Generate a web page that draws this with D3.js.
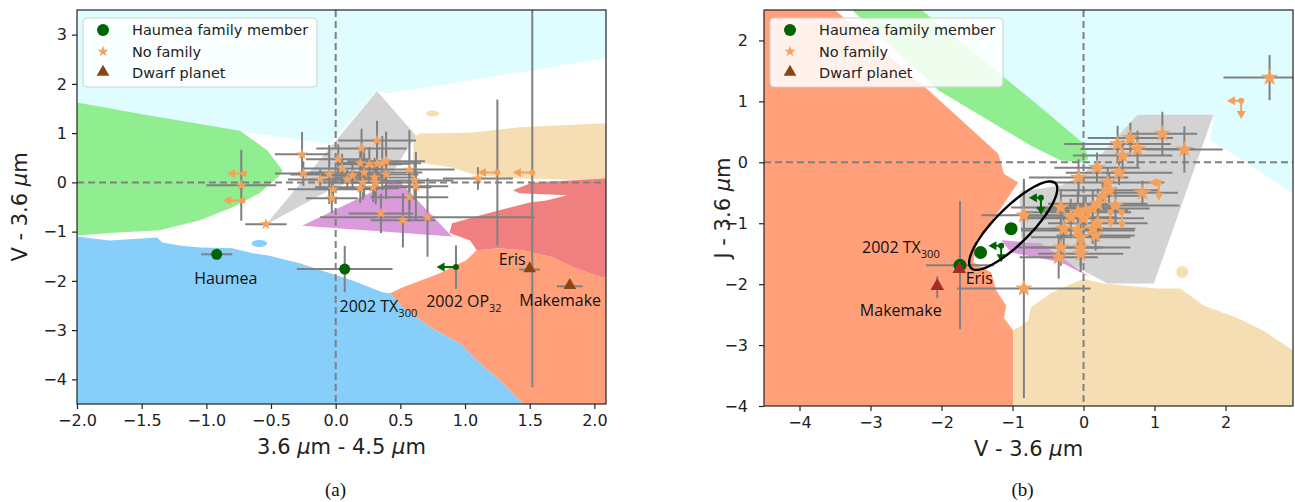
<!DOCTYPE html>
<html>
<head>
<meta charset="utf-8">
<script src="https://cdn.jsdelivr.net/npm/d3@7"></script>
<style>
  body { margin: 0; background: #fff; }
  svg { display: block; }
</style>
</head>
<body>
<svg id="fig" width="1295" height="502"></svg>
<script>
// ---------- Panel (a): 3.6-4.5 µm colour vs V-3.6 µm colour ----------
const leftXTicks = [-2.0, -1.5, -1.0, -0.5, 0.0, 0.5, 1.0, 1.5, 2.0];
const leftYTicks = [-4, -3, -2, -1, 0, 1, 2, 3];

// classification zones, polygon vertices in data units
const leftCyanZone = [[-2,3.5],[2.09,3.5],[2.09,2.52],[0.42,1.81],[0.32,1.85],[-0.05,0.79],[-0.41,0.91],[-0.66,1.01],[-0.95,1.10],[-1.44,1.36],[-2,1.62]];
const leftGreenZone = [[-2,1.62],[-1.44,1.36],[-0.74,1.05],[-0.53,0.65],[-0.41,0.24],[-0.44,0.12],[-0.59,-0.22],[-0.80,-0.51],[-1.05,-0.77],[-1.36,-0.97],[-1.75,-1.03],[-2,-1.08]];
const leftBlueZone = [[-2,-1.10],[-1.75,-1.18],[-1.38,-1.12],[-1.34,-1.22],[-1.21,-1.28],[-1.05,-1.32],[-0.80,-1.34],[-0.64,-1.44],[-0.53,-1.48],[-0.28,-1.64],[-0.12,-1.78],[0.13,-1.99],[0.36,-2.23],[0.42,-2.25],[0.52,-2.54],[0.73,-2.94],[0.96,-3.27],[1.11,-3.67],[1.27,-4.02],[1.45,-4.5],[-2,-4.5]];
const leftBlueSpot = [-0.59,-1.24,0.06,0.07];
const leftSalmonZone = [[0.42,-2.25],[0.52,-2.13],[0.80,-1.85],[1.01,-1.58],[1.09,-1.38],[1.27,-1.34],[1.45,-1.38],[1.68,-1.52],[1.83,-1.72],[2.06,-1.93],[2.09,-1.93],[2.09,-4.5],[1.45,-4.5],[1.27,-4.02],[1.11,-3.67],[0.96,-3.27],[0.73,-2.94],[0.52,-2.54]];
const leftCoralZone = [[2.09,0.08],[1.52,0.0],[1.37,-0.16],[1.42,-0.22],[1.79,-0.26],[1.63,-0.37],[1.50,-0.41],[1.17,-0.63],[0.90,-0.83],[0.88,-1.03],[1.04,-1.18],[1.09,-1.38],[1.27,-1.34],[1.45,-1.38],[1.68,-1.52],[1.83,-1.72],[2.06,-1.93],[2.09,-1.93]];
const leftWheatZone = [[0.60,0.91],[0.65,0.99],[1.04,1.01],[1.42,1.12],[2.09,1.20],[2.09,0.04],[1.42,0.08],[1.09,0.14],[0.90,0.30],[0.65,0.40],[0.60,0.45]];
const leftWheatSpot = [0.75,1.40,0.05,0.06];
const leftGrayZone = [[0.32,1.85],[0.62,0.95],[0.42,0.12],[0.10,0.0],[-0.05,-0.16],[-0.54,-0.86]];
const leftPlumZone = [[-0.26,-0.88],[0.48,0.06],[0.90,-1.10]];

// objects without family: [x, y, xErr, yErr]
const leftNoFamily = [
  [-0.73,-0.06,0.27,0.72], [-0.54,-0.85,0.16,0.05], [-0.26,0.57,0.21,0.45], [-0.25,0.18,0.22,0.25],
  [-0.12,0.06,0.25,0.20], [-0.05,0.16,0.30,0.60], [0.02,0.47,0.25,0.30], [0.05,0.28,0.30,0.30],
  [-0.02,-0.14,0.35,0.25], [-0.03,-0.32,0.20,0.30], [0.09,0.06,0.30,0.20], [0.13,0.14,0.25,0.30],
  [0.19,0.39,0.20,0.30], [0.20,0.69,0.35,0.40], [0.22,0.20,0.45,0.50], [0.21,0.00,0.30,0.35],
  [0.19,-0.12,0.30,0.30], [0.26,0.37,0.25,0.35], [0.30,0.10,0.30,0.40], [0.31,0.00,0.35,0.45],
  [0.29,-0.10,0.45,0.30], [0.32,0.85,0.30,0.40], [0.32,0.38,0.25,0.50], [0.36,0.39,0.30,0.55],
  [0.39,0.43,0.30,0.60], [0.39,0.16,0.25,0.50], [0.35,-0.63,0.25,0.40], [0.52,-0.77,0.25,0.55],
  [0.57,0.26,0.35,0.80], [0.57,-0.30,0.30,0.50], [0.61,0.04,0.30,0.40], [0.62,-0.08,0.25,0.70],
  [0.71,-0.71,0.83,0.80], [1.10,0.08,0.27,0.23]
];
// upper limits: [x, y, leftArrow, downArrow, xErr, yErr]
const leftNoFamilyLimits = [
  [-0.71,0.18,0.13,0,0,0], [-0.72,-0.37,0.15,0,0,0],
  [1.25,0.20,0.15,0,0,1.48], [1.52,0.20,0.15,0,0,4.36]
];
const leftFamily = [[-0.92,-1.46,0.12,0], [0.07,-1.76,0.37,0.47]];
const leftFamilyLimits = [[0.93,-1.72,0.15,0,0,0.44]];
const leftDwarf = [[1.50,-1.77,0.08,0.05], [1.81,-2.11,0.10,0]];
// annotations: [text, subscript, x, y, anchor]
const leftNames = [
  ["Haumea", "", -0.85, -1.95, "middle"],
  ["2002 TX", "300", 0.03, -2.52, "start"],
  ["2002 OP", "32", 0.70, -2.41, "start"],
  ["Eris", "", 1.26, -1.56, "start"],
  ["Makemake", "", 1.42, -2.39, "start"]
];

// ---------- Panel (b): V-3.6 µm colour vs J-3.6 µm colour ----------
const rightXTicks = [-4, -3, -2, -1, 0, 1, 2];
const rightYTicks = [-4, -3, -2, -1, 0, 1, 2];

const rightCyanZone = [[-2.28,2.5],[2.95,2.5],[2.95,-0.51],[2.25,0.03],[1.79,0.36],[1.83,0.78],[0.76,0.78],[0.35,-0.05],[0.03,-0.08],[-0.6,0.5]];
const rightGreenZone = [[-3.26,2.5],[-2.28,2.5],[-0.60,0.90],[0.0,0.31],[0.07,0.06],[0.0,0.0],[-0.32,0.03],[-0.74,0.27],[-2.04,1.18]];
const rightSalmonZone = [[-4.5,2.5],[-3.50,2.5],[-2.18,1.18],[-1.20,0.14],[-1.12,-0.19],[-0.92,-0.33],[-0.95,-0.38],[-1.23,-0.87],[-1.51,-1.28],[-1.55,-1.64],[-1.30,-1.81],[-1.23,-2.10],[-1.09,-2.35],[-1.12,-2.56],[-0.99,-2.76],[-0.99,-4.0],[-4.5,-4.0]];
const rightWheatZone = [[-0.99,-4.0],[-0.99,-2.76],[-0.92,-2.71],[-0.78,-2.60],[-0.74,-2.38],[-0.46,-2.15],[-0.28,-2.05],[0.0,-1.91],[0.28,-1.99],[1.04,-2.07],[1.36,-2.07],[1.60,-2.27],[1.69,-2.35],[2.16,-2.55],[2.53,-2.76],[2.95,-3.09],[2.95,-4.0]];
const rightWheatSpot = [1.39,-1.80,0.085,0.1];
const rightGrayZone = [[0.76,0.78],[1.83,0.78],[0.99,-1.99],[0.34,-1.99],[-0.88,-1.25],[-0.90,-0.48],[-0.32,-0.38],[0.0,-0.19]];
const rightPlumZone = [[-1.16,-1.28],[-0.60,-1.33],[0.10,-1.89],[-0.32,-1.64],[-1.02,-1.48]];

const rightNoFamily = [
  [2.62,1.39,0.65,0.37], [1.11,0.47,0.49,0.36], [1.42,0.21,0.54,0.38], [0.66,0.40,0.60,0.25],
  [0.48,0.30,0.75,0.30], [0.55,0.11,0.70,0.25], [0.76,0.22,0.80,0.30], [0.19,-0.09,0.60,0.25],
  [-0.07,-0.25,0.70,0.30], [0.50,-0.17,0.75,0.20], [0.34,-0.33,0.80,0.25], [0.36,-0.46,0.70,0.30],
  [0.27,-0.55,0.60,0.25], [0.83,-0.50,0.50,0.20], [0.45,-0.71,0.90,0.30], [0.20,-0.68,0.70,0.25],
  [0.13,-0.76,0.80,0.30], [0.03,-0.79,0.60,0.25], [-0.08,-0.82,0.75,0.35], [-0.32,-0.74,0.70,0.30],
  [-0.18,-0.90,0.65,0.30], [0.00,-0.92,0.85,0.25], [0.20,-1.00,0.70,0.30], [0.13,-1.09,0.60,0.25],
  [-0.08,-1.12,0.80,0.40], [-0.28,-1.09,0.60,0.30], [-0.04,-1.23,0.70,0.30], [0.17,-1.20,0.55,0.25],
  [-0.32,-1.40,0.60,0.30], [-0.04,-1.40,0.70,0.30], [-0.35,-1.56,0.55,0.35], [-0.04,-1.50,0.60,0.30],
  [-0.84,-0.87,0.60,0.55], [-0.84,-2.07,0.94,1.80]
];
const rightNoFamilyLimits = [
  [2.22,1.01,0.20,0.30,0,0], [1.06,-0.33,0.14,0.30,0,0],
  [0.38,-0.82,0,0.26,0,0], [0.54,-0.82,0,0.28,0,0]
];
const rightFamily = [[-1.74,-1.69,0.48,1.05], [-1.45,-1.48,0,0], [-1.02,-1.09,0,0]];
const rightFamilyLimits = [[-1.16,-1.37,0.18,0.27,0,0], [-0.60,-0.58,0.17,0.28,0,0]];
const rightDwarf = [[-1.75,-1.77,0,0], [-2.06,-2.05,0,0.18]];
const rightNames = [
  ["2002 TX", "300", -3.12, -1.40, "start"],
  ["Eris", "", -1.66, -1.91, "start"],
  ["Makemake", "", -3.15, -2.43, "start"]
];
// Haumea family group outline: centre and two semi-axis vectors (data units)
const familyEllipse = { cx: -0.99, cy: -1.04, a: [0.595, 0.695], b: [0.178, -0.208] };

const legendItems = ["Haumea family member", "No family", "Dwarf planet"];

// ---------- drawing ----------
const svg = d3.select("#fig");
const defs = svg.append("defs");
const BAR = "#808080", STAR = "#f5a15c", GREEN = "#006400";
const TICK_FONT = "DejaVu Sans, sans-serif";
const NOTE_FONT = "'Open Sans', sans-serif";

function starPath(size) { return d3.symbol().type(d3.symbolStar).size(size)(); }
function triPath(size) { return d3.symbol().type(d3.symbolTriangle).size(size)(); }

function drawPanel(p) {
  const x = d3.scaleLinear().domain(p.xDomain).range([p.left, p.right]);
  const y = d3.scaleLinear().domain(p.yDomain).range([p.bottom, p.top]);
  const clipId = p.id + "-clip";
  defs.append("clipPath").attr("id", clipId).append("rect")
    .attr("x", p.left).attr("y", p.top)
    .attr("width", p.right - p.left).attr("height", p.bottom - p.top);

  const g = svg.append("g");
  const plot = g.append("g").attr("clip-path", `url(#${clipId})`);
  const line = d3.line().x(d => x(d[0])).y(d => y(d[1]));

  // zones
  p.zones.forEach(([pts, color]) => {
    plot.append("path").attr("d", line(pts) + "Z").attr("fill", color);
  });
  p.spots.forEach(([s, color]) => {
    plot.append("ellipse")
      .attr("cx", x(s[0])).attr("cy", y(s[1]))
      .attr("rx", Math.abs(x(s[0] + s[2]) - x(s[0])))
      .attr("ry", Math.abs(y(s[1] + s[3]) - y(s[1])))
      .attr("fill", color);
  });

  // reference lines at zero
  plot.append("line").attr("x1", x(0)).attr("x2", x(0)).attr("y1", p.top).attr("y2", p.bottom)
    .attr("stroke", BAR).attr("stroke-width", 2).attr("stroke-dasharray", "7,4");
  plot.append("line").attr("x1", p.left).attr("x2", p.right).attr("y1", y(0)).attr("y2", y(0))
    .attr("stroke", BAR).attr("stroke-width", 2).attr("stroke-dasharray", "7,4");

  // error bars
  const bars = plot.append("g").attr("stroke", BAR).attr("stroke-width", 2);
  const drawBars = (arr, xe, ye) => arr.forEach(d => {
    const ex = d[xe], ey = d[ye];
    if (ex > 0) bars.append("line").attr("x1", x(d[0] - ex)).attr("x2", x(d[0] + ex))
      .attr("y1", y(d[1])).attr("y2", y(d[1]));
    if (ey > 0) bars.append("line").attr("x1", x(d[0])).attr("x2", x(d[0]))
      .attr("y1", y(d[1] - ey)).attr("y2", y(d[1] + ey));
  });
  drawBars(p.noFamily, 2, 3);
  drawBars(p.family, 2, 3);
  drawBars(p.dwarf, 2, 3);
  drawBars(p.noFamilyLimits, 4, 5);
  drawBars(p.familyLimits, 4, 5);

  // upper-limit arrows
  const drawLimits = (arr, color, dotR) => arr.forEach(d => {
    const px = x(d[0]), py = y(d[1]);
    const lg = plot.append("g").attr("fill", color).attr("stroke", color);
    if (d[2] > 0) {
      const ex = x(d[0] - d[2]);
      lg.append("line").attr("x1", px).attr("x2", ex + 4).attr("y1", py).attr("y2", py).attr("stroke-width", 2);
      lg.append("path").attr("stroke", "none")
        .attr("d", `M${ex},${py}L${ex + 8},${py - 4.5}L${ex + 8},${py + 4.5}Z`);
    }
    if (d[3] > 0) {
      const ey = y(d[1] - d[3]);
      lg.append("line").attr("x1", px).attr("x2", px).attr("y1", py).attr("y2", ey - 4).attr("stroke-width", 2);
      lg.append("path").attr("stroke", "none")
        .attr("d", `M${px},${ey}L${px - 4.5},${ey - 8}L${px + 4.5},${ey - 8}Z`);
    }
    lg.append("circle").attr("cx", px).attr("cy", py).attr("r", dotR).attr("stroke", "none");
  });
  drawLimits(p.noFamilyLimits, STAR, 3);
  drawLimits(p.familyLimits, GREEN, 3);

  // markers
  plot.selectAll(null).data(p.noFamily).join("path")
    .attr("d", starPath(p.starSize))
    .attr("transform", d => `translate(${x(d[0])},${y(d[1])})`)
    .attr("fill", STAR);
  plot.selectAll(null).data(p.family).join("circle")
    .attr("cx", d => x(d[0])).attr("cy", d => y(d[1])).attr("r", p.dotR)
    .attr("fill", GREEN);
  plot.selectAll(null).data(p.dwarf).join("path")
    .attr("d", triPath(p.triSize))
    .attr("transform", d => `translate(${x(d[0])},${y(d[1]) - 1})`)
    .attr("fill", p.dwarfColor);

  // family outline
  if (p.ellipse) {
    const e = p.ellipse;
    const pts = d3.range(0, 73).map(i => {
      const t = i / 72 * 2 * Math.PI;
      return [e.cx + Math.cos(t) * e.a[0] + Math.sin(t) * e.b[0],
              e.cy + Math.cos(t) * e.a[1] + Math.sin(t) * e.b[1]];
    });
    plot.append("path").attr("d", line(pts) + "Z").attr("fill", "none")
      .attr("stroke", "#000").attr("stroke-width", 2.4);
  }

  // object names
  p.names.forEach(([txt, sub, nx, ny, anchor]) => {
    const t = g.append("text").attr("x", x(nx)).attr("y", y(ny)).attr("dy", "0.36em")
      .attr("text-anchor", anchor).attr("font-family", NOTE_FONT).attr("font-size", 16)
      .attr("fill", "#111").text(txt);
    if (sub) t.append("tspan").attr("font-size", 11).attr("dy", 5).text(sub);
  });

  // frame and axes
  g.append("rect").attr("x", p.left).attr("y", p.top)
    .attr("width", p.right - p.left).attr("height", p.bottom - p.top)
    .attr("fill", "none").attr("stroke", "#222").attr("stroke-width", 1.2);

  const xAxis = g.append("g").attr("transform", `translate(0,${p.bottom})`)
    .call(d3.axisBottom(x).tickValues(p.xTicks).tickFormat(d3.format(p.xFormat)).tickSize(5).tickPadding(6));
  const yAxis = g.append("g").attr("transform", `translate(${p.left},0)`)
    .call(d3.axisLeft(y).tickValues(p.yTicks).tickFormat(d3.format("d")).tickSize(5).tickPadding(p.yPad));
  [xAxis, yAxis].forEach(a => {
    a.select(".domain").remove();
    a.selectAll(".tick line").attr("stroke", "#222").attr("stroke-width", 1.2);
    a.selectAll(".tick text").attr("font-family", TICK_FONT).attr("font-size", 16).attr("fill", "#222");
  });

  // axis titles
  const title = (el, parts) => parts.forEach(([s, it]) => {
    const ts = el.append("tspan").text(s);
    if (it) ts.attr("font-style", "italic");
  });
  const xt = g.append("text").attr("x", (p.left + p.right) / 2).attr("y", p.bottom + 50)
    .attr("text-anchor", "middle").attr("font-family", TICK_FONT).attr("font-size", 21).attr("fill", "#222");
  title(xt, p.xTitle);
  const yt = g.append("text")
    .attr("transform", `translate(${p.yTitleX},${(p.top + p.bottom) / 2}) rotate(-90)`)
    .attr("dy", "0.36em").attr("text-anchor", "middle")
    .attr("font-family", TICK_FONT).attr("font-size", 21).attr("fill", "#222");
  title(yt, p.yTitle);

  // caption
  g.append("text").attr("x", (p.left + p.right) / 2 - 6).attr("y", 496)
    .attr("text-anchor", "middle").attr("font-family", "'Liberation Serif', serif")
    .attr("font-size", 19).attr("fill", "#111").text(p.caption);

  // legend
  const lx = p.left + 6, ly = p.top + 8;
  const lg = g.append("g");
  lg.append("rect").attr("x", lx).attr("y", ly).attr("width", p.legendW).attr("height", 69)
    .attr("rx", 4).attr("fill", "#fff").attr("fill-opacity", 0.85)
    .attr("stroke", "#d0d0d0").attr("stroke-width", 1);
  legendItems.forEach((name, i) => {
    const cy = ly + 12 + i * 21.5, mx = lx + 20;
    if (i === 0) lg.append("circle").attr("cx", mx).attr("cy", cy).attr("r", 6).attr("fill", GREEN);
    if (i === 1) lg.append("path").attr("d", starPath(40)).attr("transform", `translate(${mx},${cy})`).attr("fill", STAR);
    if (i === 2) lg.append("path").attr("d", triPath(70)).attr("transform", `translate(${mx},${cy - 1})`).attr("fill", "#8b4513");
    lg.append("text").attr("x", lx + 49).attr("y", cy).attr("dy", "0.36em")
      .attr("font-family", TICK_FONT).attr("font-size", 14.5).attr("fill", "#222").text(name);
  });
}

drawPanel({
  id: "pa", left: 77, right: 606, top: 10, bottom: 404,
  xDomain: [-2, 2.09], yDomain: [-4.5, 3.5],
  xTicks: leftXTicks, yTicks: leftYTicks, xFormat: ".1f", yPad: 5,
  zones: [[leftCyanZone, "#dffcfe"], [leftGreenZone, "#90ee90"], [leftWheatZone, "#f5deb3"],
          [leftSalmonZone, "#ffa07a"], [leftCoralZone, "#f08080"], [leftBlueZone, "#87cefa"],
          [leftGrayZone, "#d3d3d3"], [leftPlumZone, "#d99bdc"]],
  spots: [[leftBlueSpot, "#87cefa"], [leftWheatSpot, "#f5deb3"]],
  noFamily: leftNoFamily, noFamilyLimits: leftNoFamilyLimits,
  family: leftFamily, familyLimits: leftFamilyLimits, dwarf: leftDwarf,
  names: leftNames, ellipse: null,
  starSize: 42, dotR: 5.5, triSize: 70, dwarfColor: "#8b4513",
  xTitle: [["3.6 ", false], ["\u03bc", true], ["m - 4.5 ", false], ["\u03bc", true], ["m", false]],
  yTitle: [["V - 3.6 ", false], ["\u03bc", true], ["m", false]],
  yTitleX: 19, caption: "(a)", legendW: 234
});

drawPanel({
  id: "pb", left: 764, right: 1293, top: 10, bottom: 406,
  xDomain: [-4.5, 2.95], yDomain: [-4, 2.5],
  xTicks: rightXTicks, yTicks: rightYTicks, xFormat: "d", yPad: 11,
  zones: [[rightCyanZone, "#dffcfe"], [rightGreenZone, "#90ee90"], [rightSalmonZone, "#ffa07a"],
          [rightWheatZone, "#f5deb3"], [rightGrayZone, "#d3d3d3"], [rightPlumZone, "#d99bdc"]],
  spots: [[rightWheatSpot, "#f5deb3"]],
  noFamily: rightNoFamily, noFamilyLimits: rightNoFamilyLimits,
  family: rightFamily, familyLimits: rightFamilyLimits, dwarf: rightDwarf,
  names: rightNames, ellipse: familyEllipse,
  starSize: 95, dotR: 6.5, triSize: 80, dwarfColor: "#a52a2a",
  xTitle: [["V - 3.6 ", false], ["\u03bc", true], ["m", false]],
  yTitle: [["J - 3.6 ", false], ["\u03bc", true], ["m", false]],
  yTitleX: 722, caption: "(b)", legendW: 233
});
</script>
</body>
</html>
